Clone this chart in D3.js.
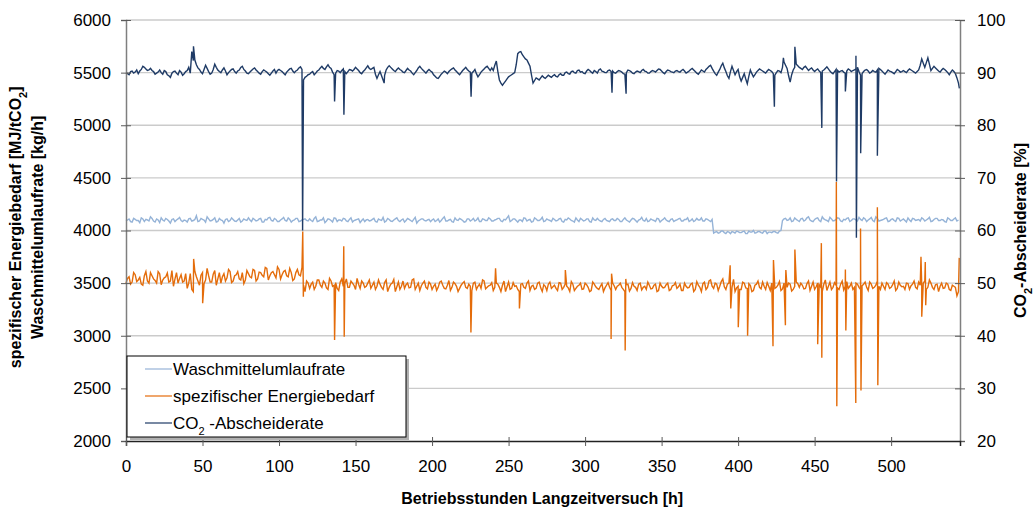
<!DOCTYPE html>
<html>
<head>
<meta charset="utf-8">
<script src="https://cdn.jsdelivr.net/npm/d3@7"></script>
<style>
  body { margin: 0; background: #fff; }
  text { font-family: "Liberation Sans", Arial, sans-serif; fill: #000; }
</style>
</head>
<body>
<div id="chart"></div>
<script>
// readings are every hour: even hours in one list, odd hours in another
const step = 2;

const leftTicks = [2000, 2500, 3000, 3500, 4000, 4500, 5000, 5500, 6000];
const rightTicks = [20, 30, 40, 50, 60, 70, 80, 90, 100];
const xTicks = [0, 50, 100, 150, 200, 250, 300, 350, 400, 450, 500];

// spezifischer Energiebedarf [MJ/tCO2], even hours 0..544
const energy = [
  3500,3560,3510,3580,3530,3490,3570,3520,3600,3540,3500,3590,3530,3560,3510,3620,3540,3500,3580,3520,
  3450,3590,3420,3560,3480,3600,3530,3570,3510,3620,3540,3500,3590,3550,3610,3520,3580,3540,3600,3530,
  3590,3550,3620,3540,3600,3560,3640,3570,3610,3550,3630,3580,3620,3560,3600,3540,3630,3570,3480,3520,
  3450,3510,3470,3530,3460,3500,3440,3520,3480,3450,3510,3470,3540,3460,3500,3440,3490,3520,3460,3500,
  3450,3510,3470,3490,3440,3530,3460,3500,3420,3510,3470,3450,3500,3460,3540,3470,3430,3500,3460,3510,
  3440,3490,3460,3520,3450,3480,3430,3510,3470,3450,3500,3460,3490,3430,3510,3470,3450,3520,3460,3480,
  3430,3500,3460,3480,3420,3510,3450,3470,3440,3490,3460,3500,3430,3480,3450,3510,3420,3470,3490,3450,
  3480,3430,3500,3460,3470,3420,3490,3450,3480,3440,3500,3460,3430,3490,3450,3470,3420,3480,3460,3500,
  3440,3480,3460,3420,3490,3450,3470,3430,3500,3460,3440,3480,3450,3490,3430,3470,3460,3500,3440,3480,
  3450,3490,3430,3470,3460,3500,3440,3480,3420,3510,3460,3530,3450,3490,3470,3540,3440,3500,3460,3420,
  3470,3440,3500,3450,3480,3430,3490,3460,3510,3440,3470,3500,3450,3480,3430,3500,3460,3490,3440,3510,
  3460,3480,3450,3520,3470,3440,3500,3460,3490,3430,3510,3460,3480,3440,3520,3470,3450,3500,3460,3490,
  3440,3490,3460,3510,3450,3480,3470,3500,3440,3490,3460,3520,3450,3480,3470,3500,3440,3490,3460,3510,
  3470,3520,3460,3500,3440,3490,3470,3450,3500,3440,3480,3460,3420
];
// odd hours 1..543
const energyOdd = [
  3545,3490,3600,3515,3555,3480,3610,3500,3570,3525,3610,3485,3550,3595,3520,3470,3600,3545,3510,3590,
  3500,3440,3610,3520,3575,3495,3640,3510,3585,3480,3600,3560,3520,3630,3505,3570,3610,3530,3495,3620,
  3560,3630,3520,3605,3575,3650,3530,3600,3580,3655,3540,3610,3570,3640,3525,3600,3580,3650,3420,3500,
  3490,3440,3530,3480,3520,3455,3545,3470,3505,3430,3540,3495,3460,3520,3480,3545,3450,3500,3470,3530,
  3480,3440,3530,3460,3505,3420,3490,3535,3465,3440,3520,3485,3455,3530,3440,3500,3475,3520,3445,3490,
  3470,3430,3510,3480,3445,3525,3460,3495,3420,3480,3515,3450,3470,3500,3440,3490,3530,3445,3475,3505,
  3460,3490,3420,3520,3465,3440,3505,3475,3420,3495,3450,3520,3470,3440,3500,3455,3485,3430,3510,3465,
  3450,3505,3440,3490,3455,3515,3430,3470,3500,3445,3485,3420,3510,3465,3440,3495,3455,3505,3430,3475,
  3470,3500,3440,3485,3425,3505,3460,3490,3435,3470,3510,3445,3480,3420,3500,3455,3485,3430,3475,3505,
  3465,3430,3500,3455,3490,3420,3515,3460,3495,3440,3520,3470,3500,3430,3515,3465,3490,3420,3535,3455,
  3440,3510,3455,3495,3420,3480,3520,3445,3470,3505,3430,3490,3460,3515,3445,3480,3500,3425,3470,3495,
  3500,3445,3495,3430,3510,3465,3485,3420,3530,3470,3440,3505,3455,3490,3435,3515,3470,3440,3500,3460,
  3475,3510,3430,3490,3460,3520,3440,3470,3505,3450,3485,3430,3510,3465,3440,3495,3475,3520,3445,3480,
  3500,3440,3530,3460,3485,3420,3500,3455,3490,3430,3470,3380
];
// single outliers [h, value]
const energySpikes = [
  [44.2,3730],[50.1,3310],[115.5,3990],[115.9,3370],[136.3,2960],[142.3,3850],[142.6,2990],
  [225.4,3030],[241.5,3640],[257.1,3260],[287.1,3625],[317.0,2970],[317.3,3590],[326.2,2860],
  [326.6,3540],[394.8,3670],[395.2,3260],[400.1,3080],[406.2,3000],[422.8,2900],[423.1,3720],
  [430.9,3100],[431.2,3625],[437.1,3820],[452.0,2920],[454.4,3880],[454.7,2790],[464.2,4460],
  [464.5,2330],[470.1,3630],[470.4,3050],[476.9,2360],[480.0,4020],[480.3,2480],[491.0,4220],
  [491.3,2530],[519.5,3750],[520.0,3180],[522.3,3700],[522.6,3290],[544.5,3740]
];

// Waschmittelumlaufrate [kg/h], even hours
const solvent = [
  4090,4110,4080,4105,4095,4120,4085,4100,4130,4090,4110,4075,4100,4115,4090,4105,4085,4110,4095,4100,
  4080,4115,4095,4140,4090,4105,4080,4110,4095,4120,4085,4100,4070,4110,4095,4105,4085,4115,4090,4100,
  4120,4085,4105,4095,4115,4080,4100,4125,4090,4105,4085,4110,4095,4120,4080,4100,4115,4090,4105,4095,
  4110,4085,4130,4090,4100,4075,4110,4095,4120,4085,4100,4115,4090,4105,4080,4100,4110,4095,4085,4105,
  4095,4115,4080,4100,4125,4090,4105,4085,4110,4095,4100,4080,4115,4095,4105,4070,4100,4110,4090,4105,
  4100,4085,4110,4095,4130,4090,4105,4080,4100,4115,4095,4085,4110,4100,4090,4120,4085,4105,4095,4110,
  4090,4105,4115,4085,4100,4140,4095,4110,4080,4100,4120,4090,4105,4085,4110,4095,4125,4090,4100,4085,
  4105,4095,4115,4080,4100,4110,4090,4120,4085,4105,4095,4110,4080,4100,4115,4090,4105,4095,4085,4110,
  4095,4105,4085,4120,4090,4100,4110,4080,4105,4095,4115,4090,4100,4085,4110,4095,4120,4090,4105,4085,
  4100,4115,4090,4105,4085,4110,4095,4100,4120,4090,4105,4085,3975,3990,3980,3995,3970,3985,3990,3975,
  3990,3980,3995,3970,3985,4000,3980,3990,3975,3995,3985,3980,3990,3975,4000,4110,4095,4120,4090,4105,
  4085,4115,4100,4130,4090,4105,4120,4085,4110,4095,4125,4090,4105,4115,4085,4100,4120,4095,4110,4090,
  4105,4120,4085,4110,4095,4130,4090,4100,4115,4085,4105,4095,4120,4090,4110,4080,4100,4115,4095,4105,
  4120,4090,4110,4085,4105,4115,4095,4100,4080,4110,4095,4120,4100
];
const solventOdd = [
  4100,4085,4115,4095,4075,4110,4105,4090,4115,4080,4100,4120,4090,4105,4070,4110,4100,4125,4085,4095,
  4110,4090,4105,4085,4115,4100,4130,4090,4105,4080,4115,4095,4105,4085,4120,4090,4100,4080,4110,4095,
  4100,4115,4090,4110,4080,4105,4120,4095,4115,4085,4100,4125,4090,4105,4095,4115,4085,4100,4110,4090,
  4095,4115,4085,4100,4120,4090,4105,4080,4115,4100,4090,4110,4085,4120,4095,4105,4075,4110,4100,4090,
  4105,4085,4110,4095,4080,4115,4090,4100,4120,4085,4110,4095,4105,4085,4125,4090,4110,4095,4100,4085,
  4110,4095,4080,4115,4090,4100,4085,4120,4095,4105,4080,4110,4090,4115,4100,4085,4110,4095,4120,4090,
  4100,4115,4090,4105,4120,4085,4110,4095,4100,4085,4115,4100,4080,4120,4095,4105,4085,4110,4095,4115,
  4090,4110,4085,4105,4120,4095,4080,4100,4115,4090,4110,4085,4120,4095,4100,4085,4115,4090,4105,4095,
  4115,4085,4105,4100,4080,4115,4095,4100,4125,4090,4085,4110,4095,4115,4080,4105,4100,4085,4110,4095,
  4110,4090,4105,4120,4095,4085,4115,4100,4090,4110,4095,4105,3985,3975,3995,3980,3990,3970,3985,3995,
  3980,3990,3970,3995,3985,3975,3990,3980,3995,3970,3985,3990,3980,3995,4095,4115,4100,4085,4120,4095,
  4110,4090,4120,4100,4085,4115,4095,4130,4100,4085,4110,4095,4120,4090,4105,4115,4085,4110,4100,4125,
  4095,4110,4100,4125,4085,4115,4095,4105,4120,4090,4110,4085,4115,4100,4095,4120,4085,4110,4100,4090,
  4110,4100,4125,4090,4115,4095,4105,4085,4120,4095,4110,4090
];

// CO2-Abscheiderate [%], even hours
const capture = [
  90.0,89.6,90.3,90.1,89.8,90.6,91.0,90.4,90.8,90.2,89.9,90.5,89.7,90.2,89.4,89.9,90.3,89.6,90.1,89.8,
  90.4,89.9,92.3,91.5,90.6,89.8,91.4,90.2,89.9,91.6,90.5,90.0,90.9,89.6,90.3,90.7,89.9,90.5,91.2,90.3,
  89.8,90.4,90.9,90.2,89.7,90.5,90.1,89.5,90.3,89.9,90.6,90.2,89.6,90.4,90.8,90.0,90.5,91.1,88.6,89.3,
  89.7,90.2,89.9,90.5,91.2,90.6,91.5,90.8,89.6,90.4,90.0,90.7,89.8,90.6,90.3,91.0,90.4,89.8,90.5,91.3,
  90.6,91.0,88.9,90.2,88.6,90.5,91.3,90.7,90.2,90.9,90.4,90.0,90.8,90.3,89.6,90.4,91.2,90.5,89.9,90.6,
  90.1,89.3,88.9,89.7,90.3,89.8,90.5,90.9,90.2,89.6,90.4,91.0,90.3,89.9,90.6,89.2,90.1,90.7,91.2,90.4,
  90.4,92.2,88.6,87.6,88.4,89.2,89.6,90.0,93.6,94.0,93.0,92.4,91.2,88.0,89.0,88.6,89.4,88.9,89.5,89.1,
  89.6,89.2,89.8,89.5,90.1,89.7,90.3,89.9,90.5,90.2,89.8,90.6,90.1,90.4,89.9,90.7,90.2,90.0,90.5,90.3,
  89.9,90.4,90.1,89.7,90.5,90.2,89.8,90.3,90.0,90.6,90.2,89.9,90.4,90.1,90.7,90.3,89.8,90.5,90.2,90.0,
  90.4,90.1,90.6,89.9,90.3,90.8,90.2,89.7,90.5,90.1,90.9,91.4,90.3,89.5,90.6,91.8,90.2,88.9,91.2,89.6,
  90.6,88.4,89.8,87.9,90.5,89.2,90.1,90.7,90.3,89.9,90.6,90.2,89.5,90.4,90.0,92.0,90.8,88.2,90.5,91.6,
  91.0,90.6,91.2,90.4,90.9,90.2,90.7,90.0,90.5,91.1,90.3,89.8,90.6,90.1,90.4,89.9,90.7,90.2,90.5,91.0,
  89.5,90.2,90.6,89.9,90.4,90.1,90.8,90.3,89.7,90.5,90.2,89.8,90.6,90.1,90.4,90.0,90.7,90.3,89.9,90.5,
  92.6,91.0,92.8,90.4,91.2,90.6,90.1,90.8,90.3,89.6,90.5,89.8,88.0
];
const captureOdd = [
  89.8,90.2,89.9,90.5,90.3,91.2,90.7,90.5,90.4,89.7,90.1,90.0,90.4,89.6,89.1,90.2,89.9,90.4,89.5,90.2,
  91.0,94.0,92.4,90.9,90.1,90.6,90.8,89.7,90.6,91.0,90.2,90.5,90.3,90.0,90.6,90.2,90.3,91.0,90.6,89.9,
  90.1,90.7,90.5,89.9,90.2,90.3,89.8,89.9,90.6,90.4,90.4,89.9,90.1,90.7,90.3,90.3,90.9,90.6,89.1,89.6,
  90.0,89.6,90.3,90.9,90.8,91.1,91.0,90.1,89.9,90.3,90.4,90.2,90.2,90.5,90.6,90.7,90.0,90.2,90.9,90.8,
  90.8,89.7,89.6,89.4,89.5,91.0,91.0,90.4,90.6,90.6,90.1,90.4,90.5,89.9,90.0,90.9,90.8,90.2,90.3,90.3,
  89.6,89.0,89.3,90.0,90.1,90.2,90.7,90.5,89.9,90.0,90.7,90.6,90.1,90.2,89.8,89.6,90.4,91.0,90.8,90.9,
  91.4,90.2,88.0,88.0,88.8,89.4,89.8,91.5,93.9,93.4,92.6,91.8,89.5,88.5,88.8,89.0,89.1,89.2,89.3,89.4,
  89.3,89.6,89.5,90.0,89.8,90.2,90.0,90.4,90.1,89.9,90.3,90.4,89.9,90.2,90.5,90.3,90.0,90.4,90.2,90.0,
  90.2,90.3,89.8,90.0,90.4,89.9,90.1,90.2,90.4,90.3,89.9,90.2,90.3,90.4,90.6,90.0,90.2,90.4,90.1,90.3,
  90.2,90.4,90.3,90.1,90.6,90.5,89.9,90.1,90.3,90.6,91.2,90.8,89.8,90.1,91.3,90.9,89.4,90.2,90.4,90.2,
  89.2,89.1,88.8,89.3,89.8,89.6,90.4,90.5,90.1,90.3,90.4,89.8,90.0,90.3,91.0,91.4,89.4,89.6,91.0,91.3,
  90.8,91.0,90.8,90.7,90.5,90.5,90.3,90.3,90.8,90.7,90.0,90.2,90.4,90.3,90.1,90.3,90.5,90.4,90.7,90.2,
  89.8,90.5,90.3,90.1,90.2,90.5,90.6,90.0,90.1,90.3,90.0,90.2,90.4,90.2,90.2,90.4,90.5,90.1,90.2,91.4,
  91.8,91.9,91.6,90.8,90.9,90.3,90.5,90.6,90.0,90.1,90.2,89.0
];
const captureSpikes = [
  [44.1,95.0],[115.4,60.0],[136.3,84.5],[142.4,82.0],[168.7,88.0],[225.5,85.4],[317.6,86.2],
  [326.8,86.0],[423.7,83.5],[429.6,92.8],[437.1,94.9],[454.7,79.5],[464.3,69.3],[470.1,86.4],
  [477.0,93.2],[477.3,58.6],[480.1,74.7],[491.0,74.2],[544.6,87.0]
];

const legendItems = [
  { label: 'Waschmittelumlaufrate', color: '#95b3d7' },
  { label: 'spezifischer Energiebedarf', color: '#e46c0a' },
  { label: 'CO2', sub: true, color: '#1f3b66' }
];

// put even hours, odd hours and outliers into one time-ordered list
function merge(even, odd, spikes) {
  const pts = even.map((v, i) => [i * step, v])
    .concat(odd.map((v, i) => [i * step + 1, v]))
    .concat(spikes);
  return pts.sort((a, b) => a[0] - b[0]);
}

const width = 1036, height = 510;
const margin = { top: 20, right: 76, bottom: 69, left: 126 };

const svg = d3.select('#chart').append('svg')
  .attr('width', width)
  .attr('height', height);

const x = d3.scaleLinear().domain([0, 545]).range([margin.left, width - margin.right]);
const yL = d3.scaleLinear().domain([2000, 6000]).range([height - margin.bottom, margin.top]);
const yR = d3.scaleLinear().domain([20, 100]).range([height - margin.bottom, margin.top]);

// gridlines
svg.append('g')
  .selectAll('line')
  .data(leftTicks.slice(1))
  .join('line')
  .attr('x1', margin.left).attr('x2', width - margin.right)
  .attr('y1', d => yL(d)).attr('y2', d => yL(d))
  .attr('stroke', '#cbcbcb')
  .attr('stroke-width', 1.3);

// series
const lineL = d3.line().x(d => x(d[0])).y(d => yL(d[1]));
const lineR = d3.line().x(d => x(d[0])).y(d => yR(d[1]));

svg.append('path')
  .attr('d', lineL(merge(solvent, solventOdd, [])))
  .attr('fill', 'none').attr('stroke', '#95b3d7').attr('stroke-width', 1.4);

svg.append('path')
  .attr('d', lineL(merge(energy, energyOdd, energySpikes)))
  .attr('fill', 'none').attr('stroke', '#e46c0a').attr('stroke-width', 1.4);

svg.append('path')
  .attr('d', lineR(merge(capture, captureOdd, captureSpikes)))
  .attr('fill', 'none').attr('stroke', '#1f3b66').attr('stroke-width', 1.4);

// axes
const fmt = d3.format('d');
const axisL = svg.append('g')
  .attr('transform', `translate(${margin.left},0)`)
  .call(d3.axisLeft(yL).tickValues(leftTicks).tickFormat(fmt).tickSize(5).tickPadding(10));
const axisR = svg.append('g')
  .attr('transform', `translate(${width - margin.right},0)`)
  .call(d3.axisRight(yR).tickValues(rightTicks).tickFormat(fmt).tickSize(5).tickPadding(12));
const axisX = svg.append('g')
  .attr('transform', `translate(0,${height - margin.bottom})`)
  .call(d3.axisBottom(x).tickValues(xTicks).tickFormat(fmt).tickSize(5).tickPadding(14));

[axisL, axisR, axisX].forEach(g => {
  g.select('.domain').attr('stroke', '#7f7f7f').attr('stroke-width', 1.5);
  g.selectAll('.tick line').attr('stroke', '#5a5a5a');
  g.selectAll('.tick text').style('font-size', '17px').style('font-family', '"Liberation Sans", Arial, sans-serif');
});
axisX.select('.domain').attr('stroke', '#222');
// cross-style ticks
axisL.selectAll('.tick line').attr('x1', 5);
axisR.selectAll('.tick line').attr('x1', -5);
axisX.selectAll('.tick line').attr('y1', -4);

// axis titles
svg.append('text')
  .attr('x', x(272)).attr('y', 504)
  .attr('text-anchor', 'middle')
  .style('font-size', '16px').style('font-weight', 'bold')
  .text('Betriebsstunden Langzeitversuch [h]');

const leftTitle = svg.append('text')
  .attr('transform', `translate(21,${yL(4030)}) rotate(-90)`)
  .attr('text-anchor', 'middle')
  .style('font-size', '16px').style('font-weight', 'bold');
leftTitle.append('tspan').text('spezifischer Energiebedarf [MJ/tCO');
leftTitle.append('tspan').attr('baseline-shift', 'sub').style('font-size', '11px').text('2');
leftTitle.append('tspan').text(']');

svg.append('text')
  .attr('transform', `translate(43,${yL(4030)}) rotate(-90)`)
  .attr('text-anchor', 'middle')
  .style('font-size', '16px').style('font-weight', 'bold')
  .text('Waschmittelumlaufrate [kg/h]');

const rightTitle = svg.append('text')
  .attr('transform', `translate(1026,${yR(60)}) rotate(-90)`)
  .attr('text-anchor', 'middle')
  .style('font-size', '16px').style('font-weight', 'bold');
rightTitle.append('tspan').text('CO');
rightTitle.append('tspan').attr('baseline-shift', 'sub').style('font-size', '11px').text('2');
rightTitle.append('tspan').text('-Abscheiderate [%]');

// legend
const legend = svg.append('g').attr('transform', 'translate(127,356)');
legend.append('rect')
  .attr('x', 3).attr('y', 3).attr('width', 279).attr('height', 81)
  .attr('fill', '#b0b0b0');
legend.append('rect')
  .attr('width', 279).attr('height', 81)
  .attr('fill', '#fff').attr('stroke', '#000').attr('stroke-width', 1);

const rows = legend.selectAll('g.row')
  .data(legendItems)
  .join('g')
  .attr('class', 'row')
  .attr('transform', (d, i) => `translate(0,${13 + i * 27})`);
rows.append('line')
  .attr('x1', 18).attr('x2', 45)
  .attr('stroke', d => d.color).attr('stroke-width', 1.2);
rows.each(function(d) {
  const t = d3.select(this).append('text')
    .attr('x', 46).attr('dy', '0.35em')
    .style('font-size', '17px');
  if (d.sub) {
    t.append('tspan').text('CO');
    t.append('tspan').attr('baseline-shift', 'sub').style('font-size', '11px').text('2');
    t.append('tspan').text(' -Abscheiderate');
  } else {
    t.text(d.label);
  }
});
</script>
</body>
</html>
